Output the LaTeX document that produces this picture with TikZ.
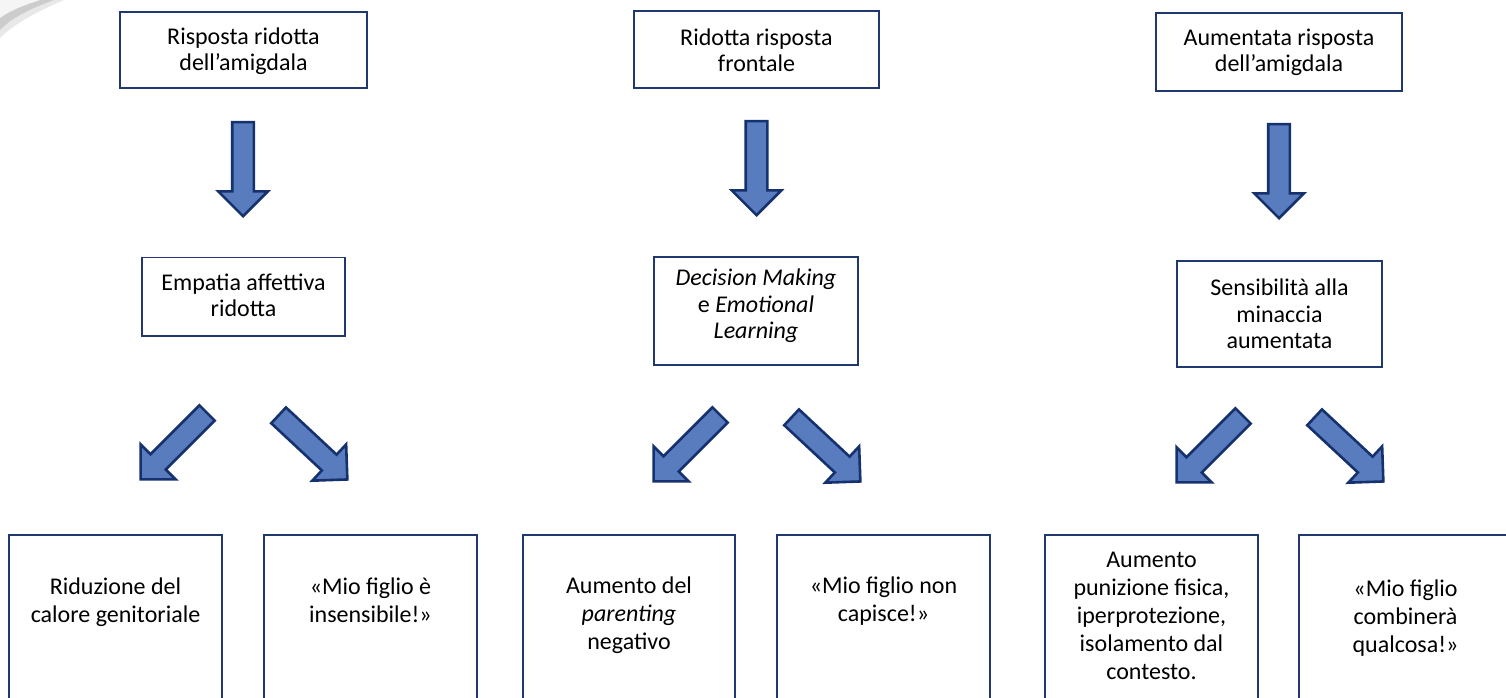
\documentclass[tikz,border=0pt]{standalone}
\usepackage{fontspec}
\setmainfont{Carlito}
\usetikzlibrary{shapes.arrows}
\definecolor{boxline}{RGB}{32,56,110}
\definecolor{arrfill}{RGB}{88,124,190}
\definecolor{arrline}{RGB}{22,50,110}
\begin{document}
\begin{tikzpicture}[x=1pt,y=-1pt,
  box/.style={draw=boxline, line width=1.8pt, inner sep=0pt, fill=white},
  txt/.style={align=center, inner sep=0pt, font=\fontsize{24}{26.5}\selectfont,
    execute at begin node=\strut, execute at end node=\strut},
  txtb/.style={txt, font=\fontsize{24}{28}\selectfont},
  barrow/.style={single arrow, draw=arrline, fill=arrfill, line width=2.6pt,
    minimum height=94pt, minimum width=47pt, single arrow head extend=14pt,
    single arrow tip angle=90, inner xsep=0pt, inner ysep=9.5pt, anchor=tip, line join=miter}
]
\useasboundingbox (0,0) rectangle (1506,698);
\clip (0,0) rectangle (1506,698);
\fill[white] (0,0) rectangle (1506,698);
% page curl shadow, top-left corner
\fill[gray!18] (0,0) -- (64,0) .. controls (46,8) and (18,20) .. (0,38) -- cycle;
\fill[gray!40] (0,0) -- (54,0) .. controls (38,6) and (14,15) .. (0,30) -- cycle;
\fill[gray!8] (0,0) -- (40,0) .. controls (28,4) and (10,10) .. (0,18) -- cycle;

% top boxes
\node[box, minimum width=247pt, minimum height=76pt] (b1) at (243.5,50) {};
\node[box, minimum width=245pt, minimum height=77pt] (b2) at (756.5,49.5) {};
\node[box, minimum width=246pt, minimum height=78pt] (b3) at (1279,52) {};
\node[txt] (t1) at (243.5,53) {Risposta ridotta\\dell’amigdala};
\node[txt] (t2) at (756.5,54) {Ridotta risposta\\frontale};
\node[txt] (t3) at (1279,54.4) {Aumentata risposta\\dell’amigdala};

% middle boxes
\node[box, minimum width=203pt, minimum height=78.5pt] (m1) at (243.5,296.75) {};
\node[box, minimum width=204pt, minimum height=108pt] (m2) at (756,311) {};
\node[box, minimum width=205pt, minimum height=106pt] (m3) at (1279.5,314) {};
\node[txt] (u1) at (243.5,299) {Empatia affettiva\\ridotta};
\node[txt] (u2) at (756,308) {\textit{Decision Making}\\e \textit{Emotional}\\\textit{Learning}};
\node[txt] (u3) at (1279.5,318) {Sensibilità alla\\minaccia\\aumentata};

% bottom boxes
\node[box, minimum width=213pt, minimum height=185pt] (ba) at (115.5,627.5) {};
\node[box, minimum width=213pt, minimum height=185pt] (bb) at (370.5,627.5) {};
\node[box, minimum width=212pt, minimum height=185pt] (bc) at (629,627.5) {};
\node[box, minimum width=213pt, minimum height=185pt] (bd) at (883.5,627.5) {};
\node[box, minimum width=213pt, minimum height=185pt] (be) at (1151.5,627.5) {};
\node[box, minimum width=213pt, minimum height=185pt] (bf) at (1405.5,627.5) {};
\node[txtb] (va) at (115.5,604.6) {Riduzione del\\calore genitoriale};
\node[txtb] (vb) at (370.5,604.6) {«Mio figlio è\\insensibile!»};
\node[txtb] (vc) at (629,617.4) {Aumento del\\\textit{parenting}\\negativo};
\node[txtb] (vd) at (883.5,603.4) {«Mio figlio non\\capisce!»};
\node[txtb] (ve) at (1151.5,620.4) {Aumento\\punizione fisica,\\iperprotezione,\\isolamento dal\\contesto.};
\node[txtb] (vf) at (1405.5,620.4) {«Mio figlio\\combinerà\\qualcosa!»};

% block arrows
\node[barrow, rotate=-90] (d1) at (243,218) {};
\node[barrow, rotate=-90] (d2) at (756.5,217) {};
\node[barrow, rotate=-90] (d3) at (1279,220) {};
\node[barrow, rotate=-135] (l1) at (139.3,480.7) {};
\node[barrow, rotate=-43] (r1) at (348.7,480.7) {};
\node[barrow, rotate=-135] (l2) at (652.3,482.7) {};
\node[barrow, rotate=-43] (r2) at (861.7,482.7) {};
\node[barrow, rotate=-135] (l3) at (1175.3,483.7) {};
\node[barrow, rotate=-43] (r3) at (1384.7,482.7) {};
\end{tikzpicture}
\end{document}
